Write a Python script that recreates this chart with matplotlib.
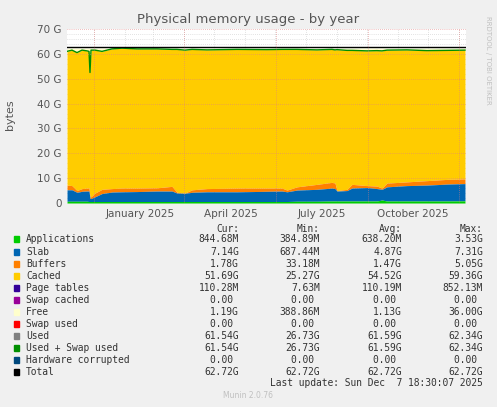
import matplotlib
matplotlib.use("Agg")
import matplotlib.pyplot as plt
import numpy as np

G = 1e9
# day offsets from 2024-11-04 (left edge of plot)
days = [0, 5, 10, 15, 20, 22, 23, 24, 28, 35, 45, 55, 70, 90, 105, 110, 118, 125, 140, 170, 200, 215,
        220, 230, 250, 265, 268, 270, 280, 285, 300, 310, 315, 320, 340, 360, 380, 398]
apps = [0.7, 0.7, 0.7, 0.7, 0.7, 0.6, 0.6, 0.6, 0.6, 0.6, 0.6, 0.6, 0.6, 0.6, 0.6, 0.6, 0.6, 0.6, 0.6, 0.6, 0.6, 0.6,
        0.6, 0.7, 0.7, 0.8, 0.8, 0.8, 0.8, 0.8, 0.8, 0.8, 1.2, 0.8, 0.8, 0.8, 0.8, 0.85]
slab_top = [5.3, 5.3, 4.3, 4.7, 4.8, 4.8, 1.8, 1.8, 2.5, 3.8, 4.4, 4.5, 4.6, 4.8, 4.8, 4.0, 3.9, 4.3, 4.5, 4.5, 4.7, 4.8,
            4.5, 5.2, 5.5, 6.0, 5.8, 4.8, 5.0, 6.0, 6.2, 5.8, 5.5, 6.5, 7.0, 7.2, 7.6, 7.8]
buf_top = [7.2, 7.0, 5.0, 5.8, 6.0, 6.0, 2.5, 2.5, 4.0, 5.5, 5.8, 6.0, 6.0, 6.1, 6.7, 4.3, 4.0, 5.3, 5.8, 6.0, 6.0, 6.0,
           5.2, 6.5, 7.5, 8.3, 8.0, 5.0, 5.5, 7.5, 7.0, 6.8, 6.0, 8.0, 8.5, 9.0, 9.5, 9.7]
used = [61.0, 61.5, 60.5, 61.5, 61.2, 61.0, 52.5, 61.5, 61.5, 61.0, 62.0, 62.3, 62.0, 62.0, 61.8, 61.8, 61.5, 61.8, 61.6, 61.8, 61.7, 61.8,
        61.8, 61.8, 61.6, 61.8, 61.6, 61.7, 61.4, 61.4, 61.2, 61.3, 61.2, 61.5, 61.6, 61.3, 61.4, 61.5]
free_top = [62.3] * len(days)
total = 62.72

month_days = [27, 58, 86, 117, 147, 178, 208, 239, 270, 300, 331, 361, 392]
quarter_days = [27, 117, 209, 301, 392]
label_days = [73, 164, 255, 346]
label_text = ["January 2025", "April 2025", "July 2025", "October 2025"]

legend = [
    ("#00cc00", "Applications", "844.68M", "384.89M", "638.20M", "3.53G"),
    ("#0066b3", "Slab", "7.14G", "687.44M", "4.87G", "7.31G"),
    ("#ff8000", "Buffers", "1.78G", "33.18M", "1.47G", "5.05G"),
    ("#ffcc00", "Cached", "51.69G", "25.27G", "54.52G", "59.36G"),
    ("#330099", "Page tables", "110.28M", "7.63M", "110.19M", "852.13M"),
    ("#990099", "Swap cached", "0.00 ", "0.00 ", "0.00 ", "0.00 "),
    ("#ffffcc", "Free", "1.19G", "388.86M", "1.13G", "36.00G"),
    ("#ff0000", "Swap used", "0.00 ", "0.00 ", "0.00 ", "0.00 "),
    ("#808080", "Used", "61.54G", "26.73G", "61.59G", "62.34G"),
    ("#008f00", "Used + Swap used", "61.54G", "26.73G", "61.59G", "62.34G"),
    ("#00487d", "Hardware corrupted", "0.00 ", "0.00 ", "0.00 ", "0.00 "),
    ("#000000", "Total", "62.72G", "62.72G", "62.72G", "62.72G"),
]

fig = plt.figure(figsize=(4.97, 4.07), dpi=100, facecolor="#f0f0f0")
ax = fig.add_axes([67/497, (407-203)/407, 399/497, 174/407], facecolor="white")
d = np.array(days)
a = np.array(apps) * G
s = np.array(slab_top) * G
b = np.array(buf_top) * G
u = np.array(used) * G
f = np.array(free_top) * G
ax.fill_between(d, u, f, color="#ffffcc", lw=0)
ax.fill_between(d, b, u, color="#ffcc00", lw=0)
ax.fill_between(d, s, b, color="#ff8000", lw=0)
ax.fill_between(d, a, s, color="#0066b3", lw=0)
ax.fill_between(d, 0, a, color="#00cc00", lw=0)
ax.plot(d, u, color="#008f00", lw=1)
ax.axhline(total * G, color="black", lw=1)

ax.set_xlim(0, 399)
ax.set_ylim(0, 70 * G)
for y in np.arange(2, 70, 2):
    if y % 10:
        ax.axhline(y * G, color="#c8c8c8", lw=0.5, ls=(0, (1, 2)), zorder=0.5)
for x in month_days:
    ax.axvline(x, color="#c8c8c8", lw=0.5, ls=(0, (1, 2)), zorder=0.5)
for y in range(10, 71, 10):
    ax.axhline(y * G, color="#e08080", lw=0.5, ls=(0, (1, 2)), zorder=3)
for x in quarter_days:
    ax.axvline(x, color="#e08080", lw=0.5, ls=(0, (1, 2)), zorder=3)
ax.set_yticks(np.arange(0, 71, 10) * G)
ax.set_yticklabels([f"{v} G" if v else "0" for v in range(0, 71, 10)])
ax.set_xticks(label_days)
ax.set_xticklabels(label_text)
ax.tick_params(labelsize=7.5, colors="#555555", length=0, pad=4)
for sp in ax.spines.values():
    sp.set_visible(False)

fig.text(0.5, 1 - 20/407, "Physical memory usage - by year", ha="center", va="center", fontsize=9.5, color="#555555")
fig.text(10/497, 1 - 115/407, "bytes", rotation=90, ha="center", va="center", fontsize=8, color="#555555")
fig.text(488/497, 1 - 60/407, "RRDTOOL / TOBI OETIKER", rotation=270, ha="center", va="center", fontsize=5, color="#c0c0c0")

mono = dict(family="DejaVu Sans Mono", fontsize=6.9, color="#333333")
def Y(py): return 1 - py/407
for px, h in zip([239, 320, 402, 483], ["Cur:", "Min:", "Avg:", "Max:"]):
    fig.text(px/497, Y(229), h, ha="right", va="center", **mono)
for i, (c, name, *vals) in enumerate(legend):
    py = 239.5 + i * 12.05
    fig.patches.append(plt.Rectangle((14/497, Y(py + 3)), 5/497, 6/407, transform=fig.transFigure, color=c))
    fig.text(26/497, Y(py), name, ha="left", va="center", **mono)
    for px, v in zip([239, 320, 402, 483], vals):
        fig.text(px/497, Y(py), v, ha="right", va="center", **mono)
fig.text(483/497, Y(383), "Last update: Sun Dec  7 18:30:07 2025", ha="right", va="center", **mono)
fig.text(248/497, Y(396), "Munin 2.0.76", ha="center", va="center", fontsize=5.5, color="#c0c0c0")

fig.savefig("out.png", dpi=100, facecolor=fig.get_facecolor())
